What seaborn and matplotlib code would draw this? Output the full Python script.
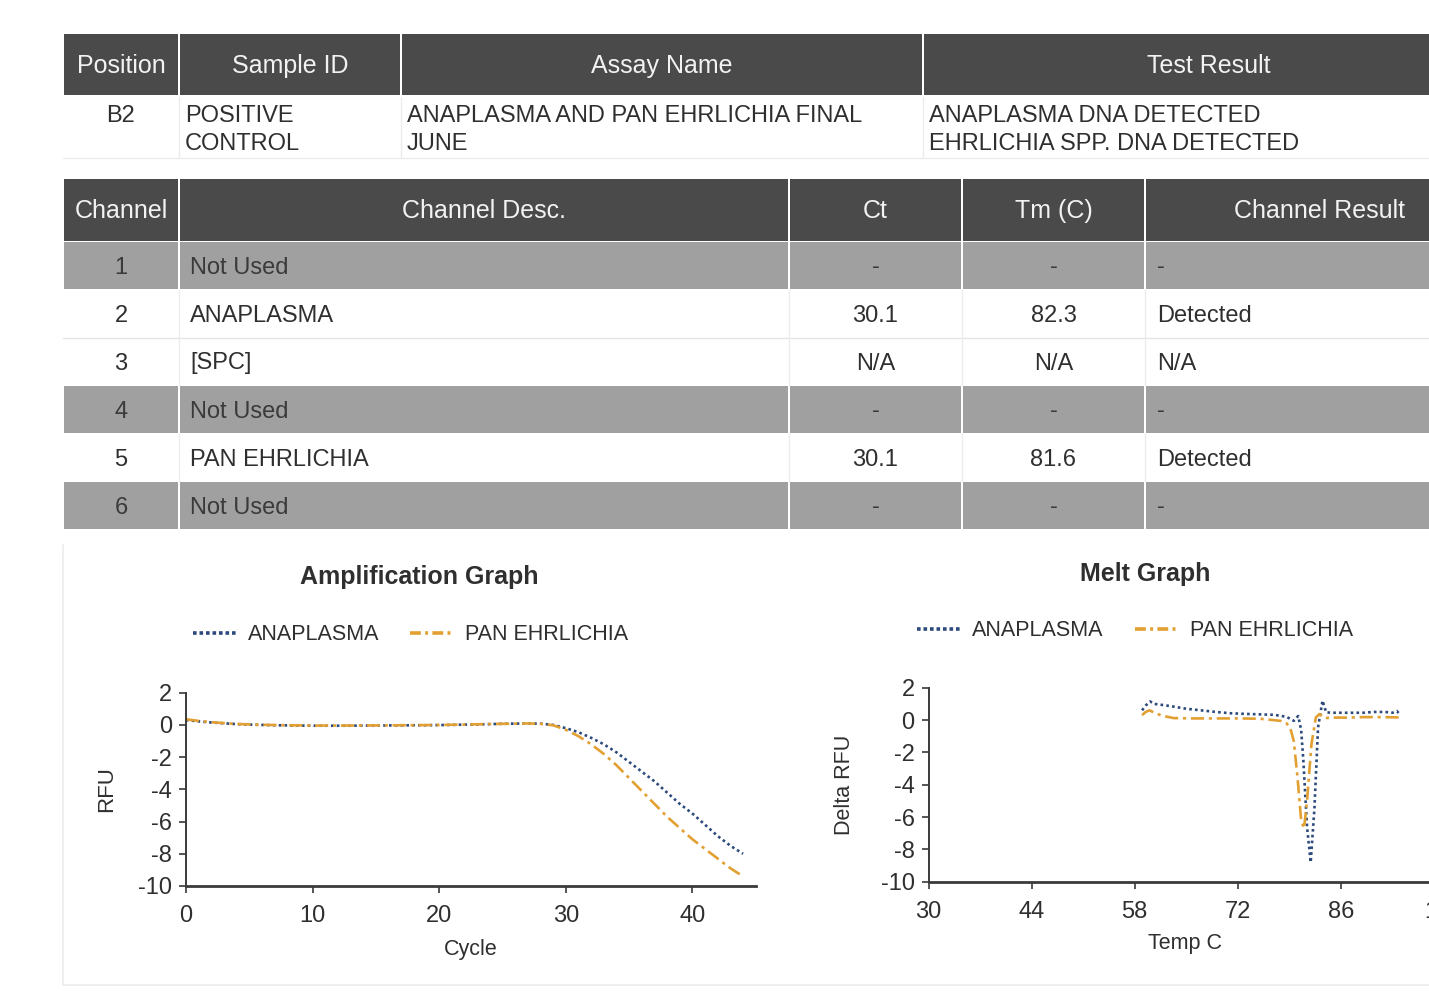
import matplotlib
matplotlib.use("Agg")
import matplotlib.pyplot as plt
from matplotlib.patches import Rectangle
from matplotlib.lines import Line2D
import seaborn as sns

# ---------------- report data ----------------
sample_headers = ["Position", "Sample ID", "Assay Name", "Test Result"]
sample_row = ["B2", "POSITIVE\nCONTROL",
              "ANAPLASMA AND PAN EHRLICHIA FINAL\nJUNE",
              "ANAPLASMA DNA DETECTED\nEHRLICHIA SPP. DNA DETECTED"]

channel_headers = ["Channel", "Channel Desc.", "Ct", "Tm (C)", "Channel Result"]
channels = ["1", "2", "3", "4", "5", "6"]
channel_desc = ["Not Used", "ANAPLASMA", "[SPC]", "Not Used", "PAN EHRLICHIA", "Not Used"]
ct_values = ["-", "30.1", "N/A", "-", "30.1", "-"]
tm_values = ["-", "82.3", "N/A", "-", "81.6", "-"]
channel_results = ["-", "Detected", "N/A", "-", "Detected", "-"]
channel_used = [False, True, True, False, True, False]

series_names = ["ANAPLASMA", "PAN EHRLICHIA"]

# amplification curves (RFU per cycle)
cycles = list(range(0, 45))
anaplasma_rfu = [0.3, 0.22, 0.15, 0.1, 0.05, 0.02, 0.0, -0.02, -0.03, -0.04,
                 -0.05, -0.05, -0.05, -0.05, -0.04, -0.04, -0.03, -0.03, -0.02, -0.02,
                 -0.01, 0.0, 0.02, 0.03, 0.05, 0.07, 0.08, 0.09, 0.08,
                 0.0, -0.2, -0.45, -0.8, -1.2, -1.7, -2.3, -2.9, -3.5, -4.2,
                 -4.9, -5.5, -6.2, -6.9, -7.5, -8.0]
ehrlichia_rfu = [0.35, 0.25, 0.17, 0.11, 0.06, 0.03, 0.01, -0.01, -0.02, -0.03,
                 -0.04, -0.04, -0.04, -0.04, -0.03, -0.03, -0.03, -0.02, -0.02, -0.01,
                 0.0, 0.01, 0.02, 0.04, 0.05, 0.07, 0.08, 0.09, 0.07,
                 -0.02, -0.3, -0.7, -1.2, -1.8, -2.5, -3.3, -4.1, -4.9, -5.7,
                 -6.4, -7.1, -7.7, -8.3, -8.9, -9.4]

# melt curves (delta RFU vs temperature)
anaplasma_temp = [59.0, 59.5, 60.1, 60.6, 61.5, 63.0, 65.0, 67.0, 69.0, 71.0,
                  73.0, 75.0, 77.0, 78.6, 79.6, 80.2, 80.6, 80.9, 81.4, 81.9,
                  82.4, 82.9, 83.5, 84.0, 85.0, 87.0, 89.0, 90.5, 92.0, 93.0,
                  93.6, 94.0]
anaplasma_drfu = [0.6, 0.9, 1.15, 1.0, 0.95, 0.85, 0.7, 0.6, 0.5, 0.42,
                  0.38, 0.35, 0.32, 0.2, -0.05, 0.25, -0.6, -2.5, -6.6, -8.8,
                  -5.5, -0.45, 1.2, 0.47, 0.45, 0.45, 0.45, 0.5, 0.5, 0.45,
                  0.55, 0.35]
ehrlichia_temp = [59.0, 59.5, 60.0, 60.7, 61.7, 63.3, 66.0, 69.0, 72.0, 75.0,
                  77.8, 78.6, 79.1, 79.6, 80.1, 80.6, 81.0, 81.4, 82.0, 82.6,
                  83.1, 83.8, 85.0, 87.0, 89.0, 91.0, 93.0, 94.0]
ehrlichia_drfu = [0.3, 0.5, 0.6, 0.45, 0.27, 0.12, 0.1, 0.1, 0.1, 0.08,
                  -0.05, -0.2, -0.45, -1.3, -3.5, -6.2, -6.7, -5.0, -1.5, 0.16,
                  0.37, 0.12, 0.15, 0.15, 0.18, 0.18, 0.17, 0.16]

amp_ticks_x = [0, 10, 20, 30, 40]
melt_ticks_x = [30, 44, 58, 72, 86, 100]
rfu_ticks = [2, 0, -2, -4, -6, -8, -10]

# ---------------- style ----------------
sns.set_theme(style="white")
plt.rcParams["font.family"] = ["Liberation Sans", "DejaVu Sans"]

TEXT = "#2f2f2f"
HEAD = "#4a4a4a"
STRIPE = "#a0a0a0"
BLUE = "#2d4a7c"
ORANGE = "#e3a032"
W, H = 1429, 991

fig = plt.figure(figsize=(W / 100, H / 100), dpi=100, facecolor="white")

# full-page layer in pixel units for the report tables
bg = fig.add_axes([0, 0, 1, 1], zorder=0)
bg.set_xlim(0, W)
bg.set_ylim(H, 0)
bg.axis("off")


def cell(x0, x1, y0, y1, color):
    bg.add_patch(Rectangle((x0 + 1, y0), x1 - x0 - 2, y1 - y0,
                           facecolor=color, edgecolor="none"))


# --- sample table ---
s_edges = [63, 179, 401, 923, 1494]
for i in range(4):
    cell(s_edges[i], s_edges[i + 1], 34, 95, HEAD)
    bg.text((s_edges[i] + s_edges[i + 1]) / 2, 66, sample_headers[i],
            ha="center", va="center", fontsize=18, color="#f2f2f2")
for x in s_edges[1:4]:
    bg.plot([x, x], [97, 158], color="#ececec", lw=1)
bg.plot([63, W], [158, 158], color="#ececec", lw=1)
for i, txt in enumerate(sample_row):
    lines = txt.split("\n")
    for j, ln in enumerate(lines):
        if i == 0:
            bg.text((s_edges[0] + s_edges[1]) / 2, 116 + 28 * j, ln, ha="center",
                    va="center", fontsize=17, color=TEXT)
        else:
            bg.text(s_edges[i] + 6, 116 + 28 * j, ln, ha="left",
                    va="center", fontsize=17, color=TEXT)

# --- channel table ---
c_edges = [63, 179, 789, 962, 1145, 1494]
for i in range(5):
    cell(c_edges[i], c_edges[i + 1], 179, 241, HEAD)
    bg.text((c_edges[i] + c_edges[i + 1]) / 2, 211, channel_headers[i],
            ha="center", va="center", fontsize=18, color="#f2f2f2")

row_top = 242
row_h = 48
for r in range(len(channels)):
    y0 = row_top + r * row_h
    y1 = y0 + row_h - 1
    yc = (y0 + y1) / 2 + 2
    used = channel_used[r]
    if not used:
        for i in range(5):
            cell(c_edges[i], c_edges[i + 1], y0, y1, STRIPE)
    else:
        for x in c_edges[1:5]:
            bg.plot([x, x], [y0, y1], color="#ececec", lw=1)
        if r + 1 < len(channels) and channel_used[r + 1]:
            bg.plot([63, W], [y1 + 0.5, y1 + 0.5], color="#e4e4e4", lw=1)
    col = TEXT if used else "#3a3a3a"
    bg.text((c_edges[0] + c_edges[1]) / 2, yc, channels[r], ha="center", va="center",
            fontsize=17, color=col)
    bg.text(c_edges[1] + 11, yc, channel_desc[r], ha="left", va="center",
            fontsize=17, color=col)
    bg.text((c_edges[2] + c_edges[3]) / 2, yc, ct_values[r], ha="center", va="center",
            fontsize=17, color=col)
    bg.text((c_edges[3] + c_edges[4]) / 2, yc, tm_values[r], ha="center", va="center",
            fontsize=17, color=col)
    bg.text(c_edges[4] + 12, yc, channel_results[r], ha="left", va="center",
            fontsize=17, color=col)

# faint frame around the graph section
bg.plot([63, 63, W], [545, 985, 985], color="#ececec", lw=1.2)

# ---------------- graphs ----------------
ax_amp = fig.add_axes([186 / W, 1 - 886 / H, (755.7 - 186) / W, (886 - 692.7) / H], zorder=2)
ax_melt = fig.add_axes([928.5 / W, 1 - 881.7 / H, (1444 - 928.5) / W, (881.7 - 687.7) / H], zorder=2)

blue_ls = (0, (1.0, 1.2))
orange_ls = (0, (5.0, 1.8, 1.2, 1.8))

sns.lineplot(x=cycles, y=anaplasma_rfu, ax=ax_amp, color=BLUE, lw=1.9,
             linestyle=blue_ls, sort=False)
sns.lineplot(x=cycles, y=ehrlichia_rfu, ax=ax_amp, color=ORANGE, lw=1.9,
             linestyle=orange_ls, sort=False)
sns.lineplot(x=anaplasma_temp, y=anaplasma_drfu, ax=ax_melt, color=BLUE, lw=1.9,
             linestyle=blue_ls, sort=False)
sns.lineplot(x=ehrlichia_temp, y=ehrlichia_drfu, ax=ax_melt, color=ORANGE, lw=1.9,
             linestyle=orange_ls, sort=False)

ax_amp.set_xlim(0, 45)
ax_melt.set_xlim(30, 100)
for ax, xt in ((ax_amp, amp_ticks_x), (ax_melt, melt_ticks_x)):
    ax.set_facecolor("none")
    ax.set_ylim(-10, 2)
    ax.set_yticks(rfu_ticks)
    ax.set_xticks(xt)
    ax.set_xticklabels([str(v) for v in xt])
    ax.set_yticklabels([str(v) for v in rfu_ticks])
    for s in ("top", "right"):
        ax.spines[s].set_visible(False)
    ax.spines["left"].set_color("#3a3a3a")
    ax.spines["left"].set_linewidth(1.4)
    ax.spines["bottom"].set_color("#3a3a3a")
    ax.spines["bottom"].set_linewidth(2.0)
    ax.tick_params(axis="both", which="major", left=True, bottom=True, direction="out",
                   length=5, width=1.2, color="#3a3a3a", labelsize=17, labelcolor=TEXT)
    ax.tick_params(axis="y", pad=5)
    ax.tick_params(axis="x", pad=9)

ax_amp.set_xlabel("Cycle", fontsize=15.5, color=TEXT)
ax_amp.set_ylabel("RFU", fontsize=16, color=TEXT)
ax_amp.xaxis.set_label_coords(0.5, -0.272)
ax_amp.yaxis.set_label_coords(-0.121, 0.5)
ax_melt.set_xlabel("Temp C", fontsize=15.5, color=TEXT)
ax_melt.set_ylabel("Delta RFU", fontsize=15.5, color=TEXT)
ax_melt.xaxis.set_label_coords(0.4976, -0.266)
ax_melt.yaxis.set_label_coords(-0.142, 0.5)

fig.text(419 / W, 1 - 577 / H, "Amplification Graph", ha="center", va="center",
         fontsize=18, fontweight="bold", color=TEXT)
fig.text(1145 / W, 1 - 574 / H, "Melt Graph", ha="center", va="center",
         fontsize=18, fontweight="bold", color=TEXT)

handles = [Line2D([], [], color=BLUE, lw=2.6, linestyle=(0, (1.0, 0.8))),
           Line2D([], [], color=ORANGE, lw=2.6, linestyle=(0, (3.0, 1.2, 0.8, 1.2)))]
for ax, cx, cy in ((ax_amp, 410.5, 635), (ax_melt, 1135, 631)):
    ax.legend(handles, series_names, loc="center", bbox_to_anchor=(cx / W, 1 - cy / H),
              bbox_transform=fig.transFigure, ncol=2, frameon=False, fontsize=15.5,
              handlelength=2.05, handletextpad=0.5, columnspacing=1.45,
              labelcolor=TEXT, borderpad=0)

fig.savefig("out.png", dpi=100, facecolor="white")
